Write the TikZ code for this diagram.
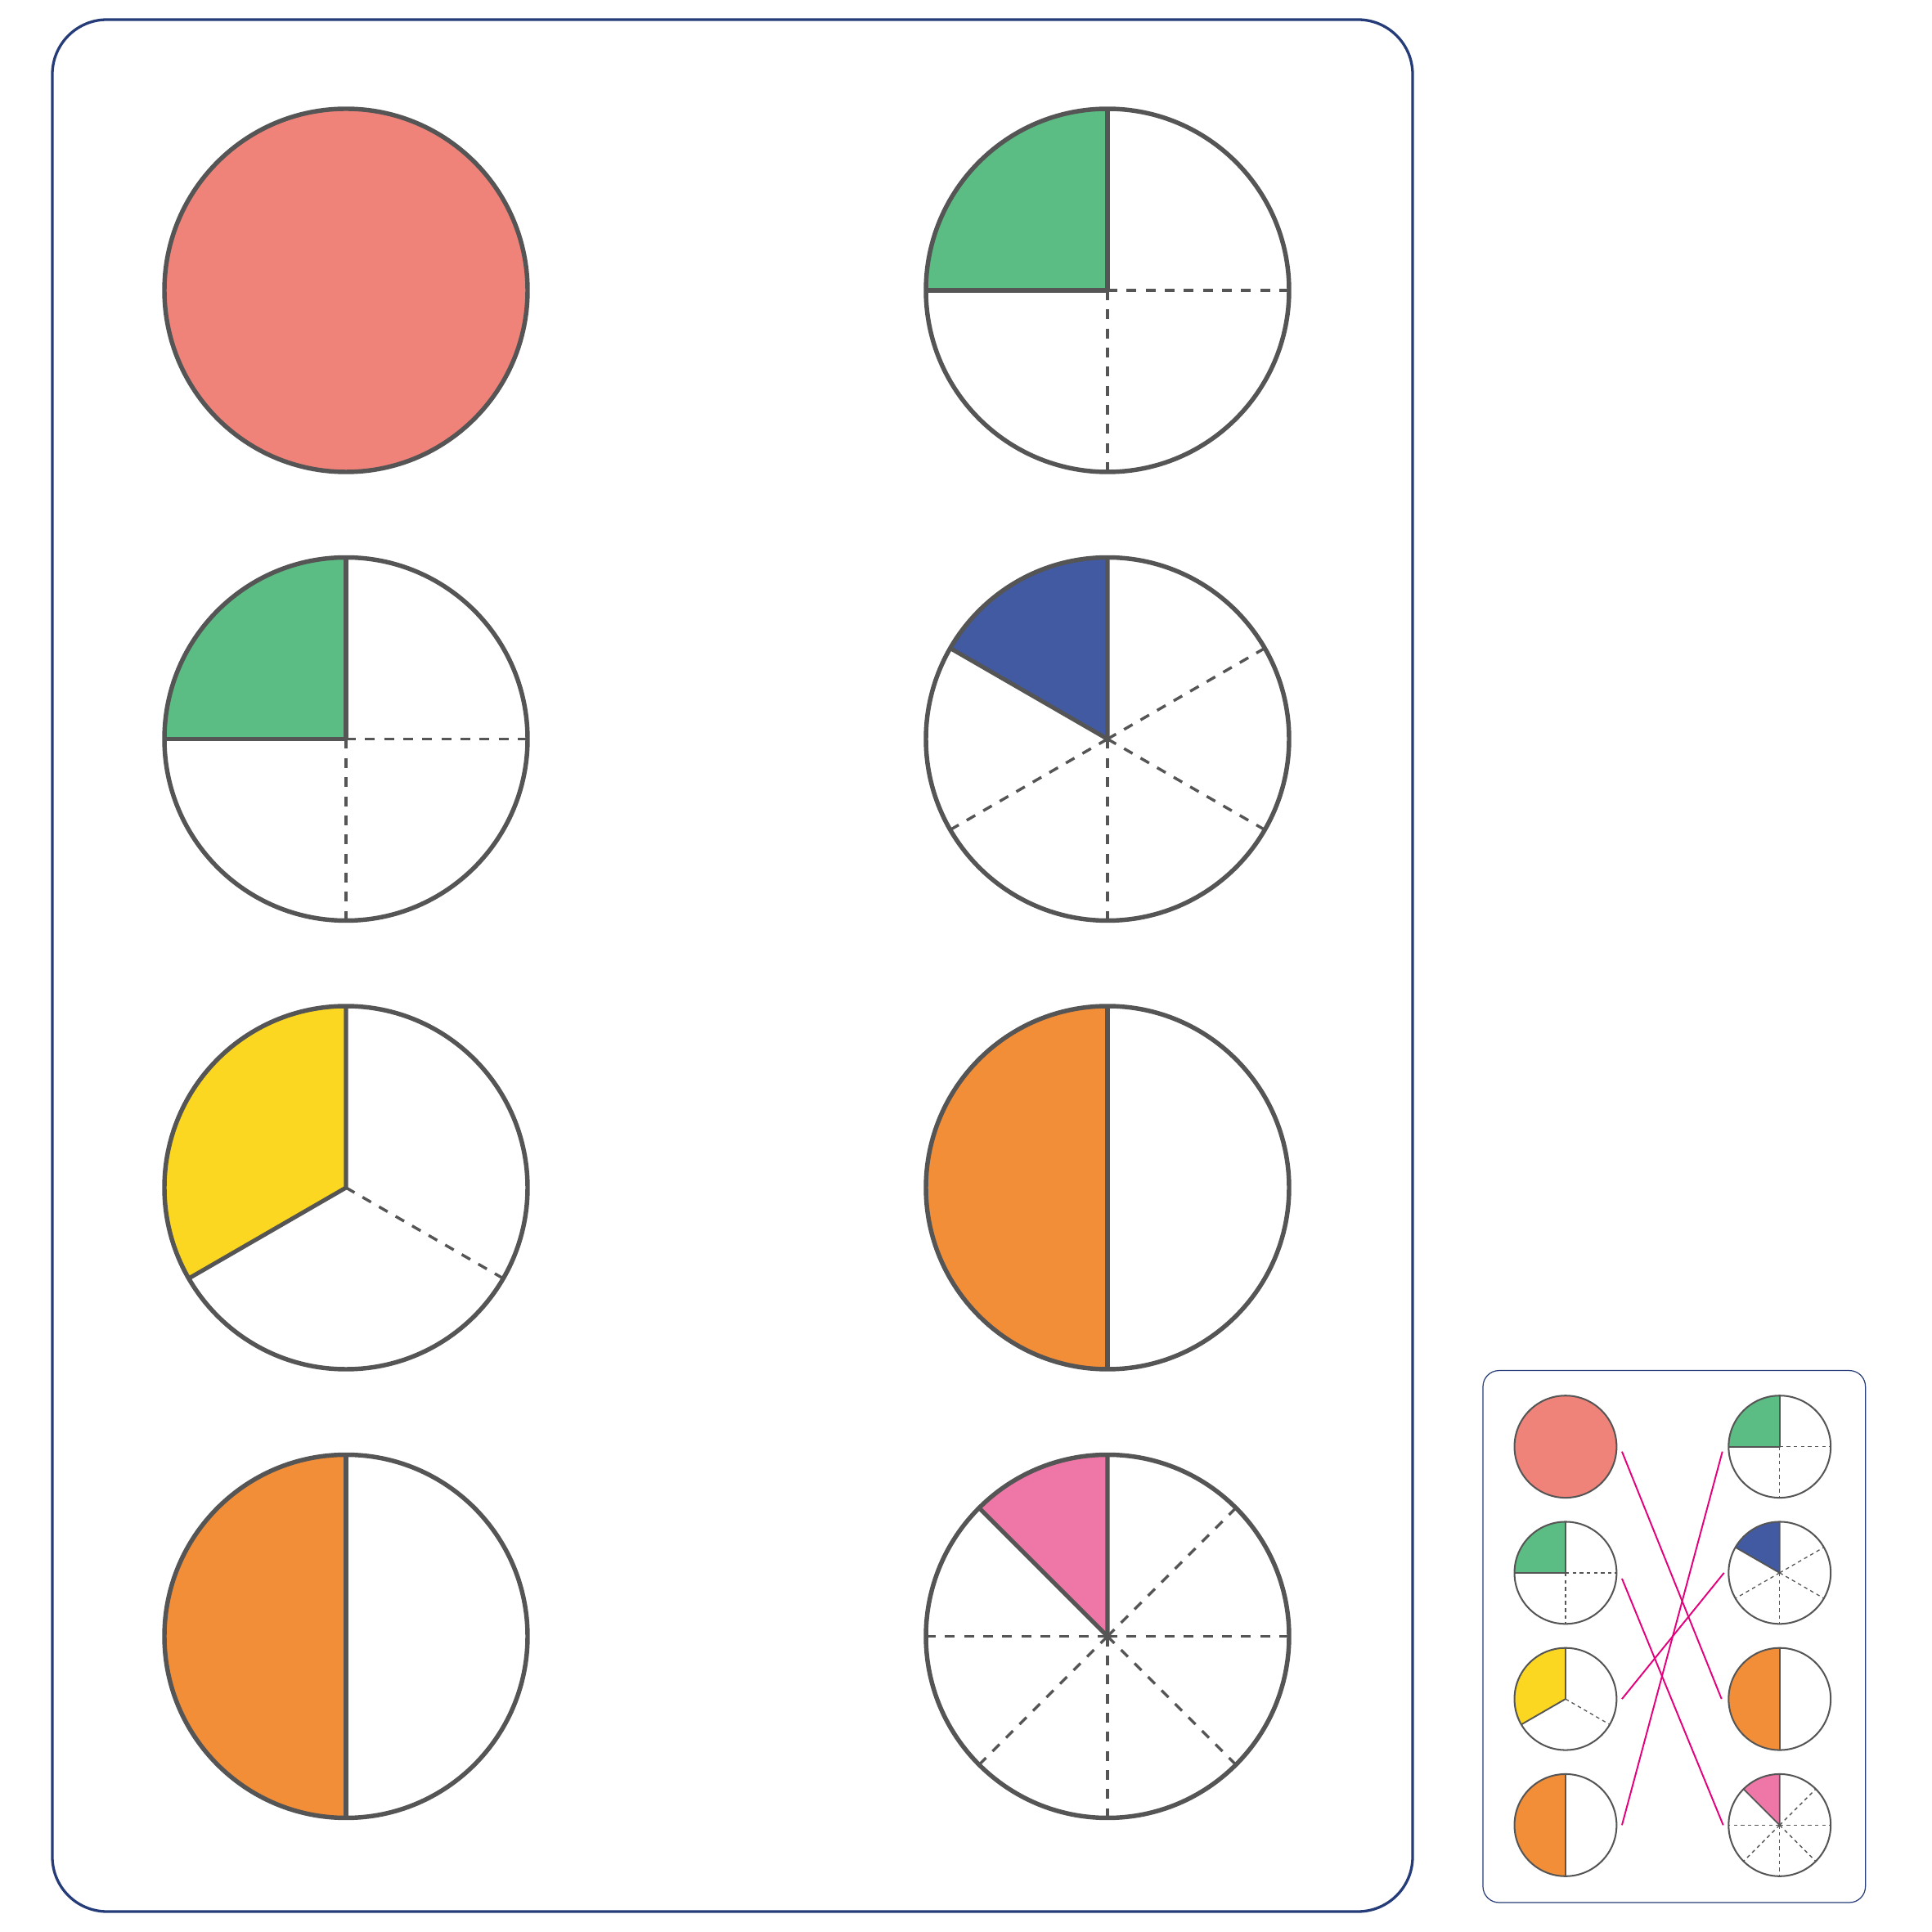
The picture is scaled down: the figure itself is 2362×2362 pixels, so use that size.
\documentclass[tikz,border=0pt]{standalone}
\usetikzlibrary{calc}
\definecolor{outl}{HTML}{555555}
\definecolor{framec}{HTML}{263C78}
\definecolor{salmon}{HTML}{EF837A}
\definecolor{pgreen}{HTML}{5CBD84}
\definecolor{pblue}{HTML}{425AA2}
\definecolor{pyellow}{HTML}{FCD722}
\definecolor{porange}{HTML}{F38E38}
\definecolor{ppink}{HTML}{EF77A8}
\definecolor{mline}{HTML}{E4007C}
\newcommand\pieR{222}
\tikzset{
  circout/.style={draw=outl, line width=\bow},
  solidrad/.style={draw=outl, line width=\bsw, line join=round},
  dashrad/.style={draw=outl, line width=\bdw, dash pattern=on \bdon off \bdoff},
  matchline/.style={draw=mline, line width=0.55pt},
}
\newcommand\pieparts[5]{%
  \fill[#4] (#1) -- ++(#2:\pieR) arc[start angle=#2,end angle=#3,radius=\pieR] -- cycle;
  \foreach \a in {#5} {\draw[dashrad] (#1) -- ++(\a:\pieR);}
  \draw[solidrad] (#1) ++(#2:\pieR) -- (#1) -- ++(#3:\pieR);
  \draw[circout] (#1) circle[radius=\pieR];}
\newcommand\drawboard[3]{%
  \pgfmathsetlengthmacro\bfw{0.94pt*#2}%
  \pgfmathsetlengthmacro\bow{1.55pt*#2}%
  \pgfmathsetlengthmacro\bsw{1.45pt*#2}%
  \pgfmathsetlengthmacro\bdw{0.98pt*#2}%
  \pgfmathsetlengthmacro\bdon{3.414pt*#2}%
  \pgfmathsetlengthmacro\bdoff{3.224pt*#2}%
  \draw[framec, line width=\bfw, rounded corners=#3] (0,0) rectangle (1663,2313);
  \coordinate (#1L1) at (359,1982);
  \coordinate (#1R1) at (1290,1982);
  \coordinate (#1L2) at (359,1433.5);
  \coordinate (#1R2) at (1290,1433.5);
  \coordinate (#1L3) at (359,885);
  \coordinate (#1R3) at (1290,885);
  \coordinate (#1L4) at (359,336.5);
  \coordinate (#1R4) at (1290,336.5);
  % row 1
  \fill[salmon] (359,1982) circle[radius=\pieR];
  \draw[circout] (359,1982) circle[radius=\pieR];
  \pieparts{1290,1982}{90}{180}{pgreen}{0,270}
  % row 2
  \pieparts{359,1433.5}{90}{180}{pgreen}{0,270}
  \pieparts{1290,1433.5}{90}{150}{pblue}{30,-30,-90,210}
  % row 3
  \pieparts{359,885}{90}{210}{pyellow}{-30}
  \pieparts{1290,885}{90}{270}{porange}{90}
  % row 4
  \pieparts{359,336.5}{90}{270}{porange}{90}
  \pieparts{1290,336.5}{90}{135}{ppink}{45,0,-45,-90,-135,180}
}
\begin{document}
\begin{tikzpicture}[x=0.01cm,y=0.01cm]
\fill[white] (0,0) rectangle (2362,2362);
\useasboundingbox (0,0) rectangle (2362,2362);
\begin{scope}[shift={(64,25)}]
  \drawboard{m}{1}{19pt}
\end{scope}
\begin{scope}[shift={(1813,36)},scale=0.2812]
  \drawboard{t}{0.37}{5.6pt}
\end{scope}
\draw[matchline] ($(tL1)+(69,-6)$) -- ($(tR3)+(-71,0)$);
\draw[matchline] ($(tL2)+(69,-7)$) -- ($(tR4)+(-69,0)$);
\draw[matchline] ($(tL3)+(69,0)$) -- ($(tR2)+(-68,0)$);
\draw[matchline] ($(tL4)+(69,0)$) -- ($(tR1)+(-70,-6)$);
\end{tikzpicture}
\end{document}
